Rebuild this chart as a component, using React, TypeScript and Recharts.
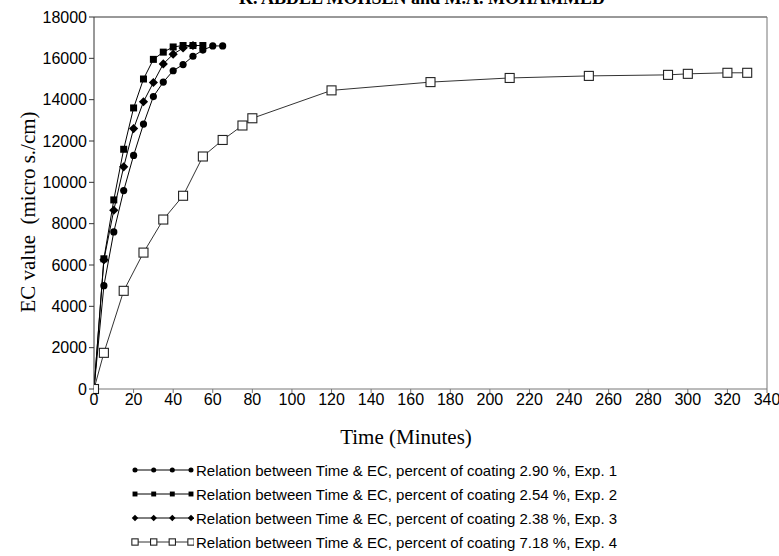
import React from 'react';
import {
  LineChart,
  Line,
  XAxis,
  YAxis,
  ReferenceLine,
} from 'recharts';

// time in minutes, EC in micro s./cm
const exp1Time = [0, 5, 10, 15, 20, 25, 30, 35, 40, 45, 50, 55, 60, 65];
const exp1EC = [0, 5000, 7600, 9600, 11300, 12820, 14150, 14850, 15400, 15700, 16100, 16400, 16600, 16600];

const exp2Time = [0, 5, 10, 15, 20, 25, 30, 35, 40, 45, 50, 55];
const exp2EC = [0, 6300, 9150, 11600, 13600, 15000, 15950, 16300, 16550, 16620, 16620, 16620];

const exp3Time = [0, 5, 10, 15, 20, 25, 30, 35, 40, 45, 50];
const exp3EC = [0, 6250, 8650, 10750, 12600, 13900, 14830, 15730, 16200, 16500, 16620];

const exp4Time = [0, 5, 15, 25, 35, 45, 55, 65, 75, 80, 120, 170, 210, 250, 290, 300, 320, 330];
const exp4EC = [0, 1750, 4750, 6600, 8200, 9350, 11250, 12050, 12750, 13100, 14450, 14850, 15050, 15150, 15200, 15250, 15300, 15300];

const xTicks = [0, 20, 40, 60, 80, 100, 120, 140, 160, 180, 200, 220, 240, 260, 280, 300, 320, 340];
const yTicks = [0, 2000, 4000, 6000, 8000, 10000, 12000, 14000, 16000, 18000];

const legendNames = [
  'Relation between Time & EC, percent of coating 2.90 %, Exp. 1',
  'Relation between Time & EC, percent of coating 2.54 %, Exp. 2',
  'Relation between Time & EC, percent of coating 2.38 %, Exp. 3',
  'Relation between Time & EC, percent of coating 7.18 %, Exp. 4',
];

const zip = (t: number[], v: number[]) => t.map((x, i) => ({ t: x, ec: v[i] }));

const series = [
  { key: 'exp1', data: zip(exp1Time, exp1EC), shape: 'circle', stroke: '#000' },
  { key: 'exp2', data: zip(exp2Time, exp2EC), shape: 'square', stroke: '#000' },
  { key: 'exp3', data: zip(exp3Time, exp3EC), shape: 'diamond', stroke: '#000' },
  { key: 'exp4', data: zip(exp4Time, exp4EC), shape: 'open', stroke: '#333' },
];

const serif = '"Liberation Serif", "Times New Roman", serif';
const sans = '"Liberation Sans", Arial, sans-serif';

function Marker({ shape, cx, cy, small }: { shape: string; cx: number; cy: number; small?: boolean }) {
  const k = small ? 0.7 : 1;
  if (shape === 'circle') return <circle cx={cx} cy={cy} r={3.6 * k} fill="#000" />;
  if (shape === 'square') {
    const s = 7 * k;
    return <rect x={cx - s / 2} y={cy - s / 2} width={s} height={s} fill="#000" />;
  }
  if (shape === 'diamond') {
    const d = 4.6 * k;
    return <polygon points={`${cx},${cy - d} ${cx + d},${cy} ${cx},${cy + d} ${cx - d},${cy}`} fill="#000" />;
  }
  const s = 9 * k;
  return <rect x={cx - s / 2} y={cy - s / 2} width={s} height={s} fill="#fff" stroke="#222" strokeWidth={1.1} />;
}

const dotFor = (shape: string) => (props: any) => (
  <g key={`${shape}-${props.index}`}>
    <Marker shape={shape} cx={props.cx} cy={props.cy} />
  </g>
);

const tickStyle = { fontFamily: sans, fontSize: 16, fill: '#000' };

export default function App() {
  return (
    <div style={{ position: 'absolute', left: 0, top: 0, width: 779, height: 556, background: '#fff', overflow: 'hidden' }}>
      <div
        style={{
          position: 'absolute',
          top: -11,
          left: 0,
          width: 844,
          textAlign: 'center',
          fontFamily: serif,
          fontWeight: 'bold',
          fontSize: 18,
          lineHeight: '18px',
          whiteSpace: 'nowrap',
        }}
      >
        K. ABDEL MOHSEN and M.A. MOHAMMED
      </div>
      <LineChart width={779} height={556} margin={{ top: 17, right: 12, left: 0, bottom: 137 }}>
        <XAxis
          type="number"
          dataKey="t"
          domain={[0, 340]}
          ticks={xTicks}
          interval={0}
          tickSize={4}
          tickMargin={1}
          height={30}
          stroke="#777"
          tick={tickStyle}
          allowDataOverflow
          label={{
            content: () => (
              <text x={406} y={444} textAnchor="middle" fontFamily={serif} fontSize={21} fill="#000">
                Time (Minutes)
              </text>
            ),
          }}
        />
        <YAxis
          type="number"
          dataKey="ec"
          domain={[0, 18000]}
          ticks={yTicks}
          interval={0}
          width={94}
          tickSize={5}
          tickMargin={2}
          stroke="#333"
          tick={tickStyle}
          label={{
            content: () => (
              <text
                x={35}
                y={212}
                textAnchor="middle"
                transform="rotate(-90 35 212)"
                fontFamily={serif}
                fontSize={21}
                fill="#000"
                style={{ whiteSpace: 'pre' }}
              >
                {'EC value  (micro s./cm)'}
              </text>
            ),
          }}
        />
        <ReferenceLine y={18000} stroke="#333" strokeWidth={1} />
        <ReferenceLine x={340} stroke="#777" strokeWidth={1} />
        {series.map((s) => (
          <Line
            key={s.key}
            data={s.data}
            dataKey="ec"
            type="linear"
            stroke={s.stroke}
            strokeWidth={1}
            dot={dotFor(s.shape)}
            activeDot={false}
            isAnimationActive={false}
          />
        ))}
      </LineChart>
      <div style={{ position: 'absolute', left: 130, top: 458 }}>
        {series.map((s, i) => (
          <div key={s.key} style={{ display: 'flex', alignItems: 'center', height: 24 }}>
            <svg width={64} height={14} style={{ display: 'block' }}>
              <line x1={5} y1={7} x2={61} y2={7} stroke={s.stroke} strokeWidth={1} />
              {[5, 23.7, 42.3, 61].map((x) => (
                <Marker key={x} shape={s.shape} cx={x} cy={7} small />
              ))}
            </svg>
            <span
              style={{
                fontFamily: sans,
                fontSize: 15,
                marginLeft: 2,
                whiteSpace: 'nowrap',
              }}
            >
              {legendNames[i]}
            </span>
          </div>
        ))}
      </div>
    </div>
  );
}
